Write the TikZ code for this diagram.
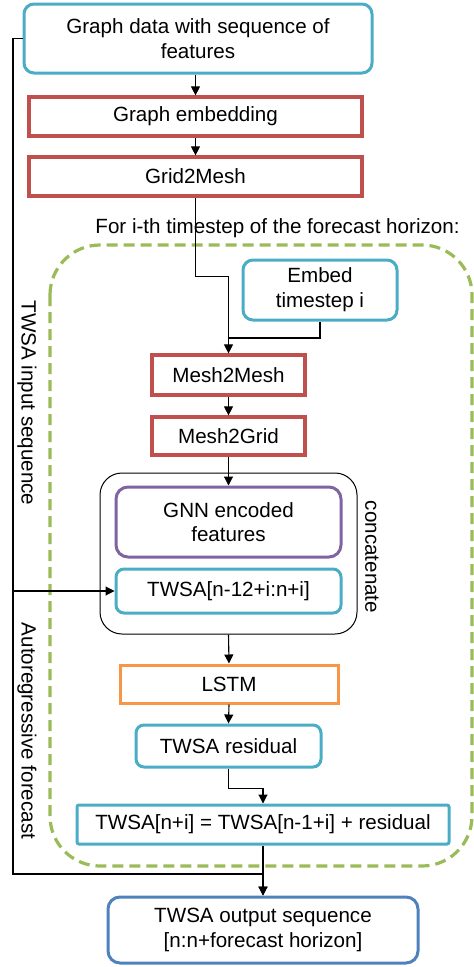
\documentclass[tikz,border=0pt]{standalone}
\usepackage{fontspec}
\setmainfont{Liberation Sans}
\usetikzlibrary{arrows.meta}
\definecolor{boxcyan}{HTML}{4BACC6}
\definecolor{boxred}{HTML}{C0504D}
\definecolor{boxpurple}{HTML}{8064A2}
\definecolor{boxorange}{HTML}{F79646}
\definecolor{boxblue}{HTML}{4F81BD}
\definecolor{loopgreen}{HTML}{9BBB59}
\tikzset{
	every node/.style={font=\fontsize{20.6}{24.7}\selectfont, align=center, inner sep=0pt},
	databox/.style={draw=boxcyan, line width=3pt, rounded corners=10pt},
	gnnbox/.style={draw=boxred, line width=3.2pt},
	arr/.style={line width=1.1pt, -{Triangle[length=9pt,width=9pt]}}
}
\begin{document}
\begin{tikzpicture}[x=1pt, y=-1pt]
			\useasboundingbox (0,0) rectangle (474,967);
			\draw [loopgreen, line width=3.2pt, dash pattern=on 11pt off 6pt, rounded corners=50pt] (50,245) rectangle (472,866);

			\node [databox, minimum width=348pt, minimum height=69pt] (graph) at (198,38.5) {Graph data with sequence of\\features};
			\node [gnnbox, minimum width=333pt, minimum height=39pt] (gemb) at (195.5,116.5) {Graph embedding};
			\node [gnnbox, minimum width=333pt, minimum height=39pt] (g2m) at (195.5,176.5) {Grid2Mesh};
			\node (lblfor) at (277.5,228) {For i-th timestep of the forecast horizon:};
			\node [databox, minimum width=154pt, minimum height=60pt] (embed) at (320,290) {Embed\\timestep i};
			\node [gnnbox, minimum width=153pt, minimum height=40pt] (m2m) at (228.5,375) {Mesh2Mesh};
			\node [gnnbox, minimum width=153pt, minimum height=38pt] (m2g) at (228.5,436) {Mesh2Grid};
			\node [draw, line width=1pt, rounded corners=22pt, minimum width=257pt, minimum height=161pt] (concat) at (228.5,553.5) {};
			\node [draw=boxpurple, line width=3pt, rounded corners=12pt, minimum width=225pt, minimum height=70pt] (gnn) at (228.5,522) {GNN encoded\\features};
			\node [databox, rounded corners=8pt, minimum width=225pt, minimum height=44pt] (win) at (228.5,591) {TWSA[n-12+i:n+i]};
			\node [rotate=-90] (lblcat) at (372,557) {concatenate};
			\node [draw=boxorange, line width=3pt, minimum width=218pt, minimum height=38pt] (lstm) at (229,684) {LSTM};
			\node [databox, rounded corners=8pt, minimum width=185pt, minimum height=42pt] (res) at (228.5,746) {TWSA residual};
			\node [databox, rounded corners=2pt, minimum width=372pt, minimum height=39pt] (upd) at (263,824.5) {TWSA[n+i] = TWSA[n-1+i] + residual};
			\node [draw=boxblue, line width=3pt, rounded corners=12pt, minimum width=310pt, minimum height=66pt] (out) at (263,930) {TWSA output sequence\\{}[n:n+forecast horizon]};
			\node [rotate=-90] (lblin) at (27,403) {TWSA input sequence};
			\node [rotate=-90] (lblar) at (27,731) {Autoregressive forecast};

			\coordinate (lbot) at (13,874);
			\coordinate (join) at (228.5,338);

			\draw [arr] (gemb.north |- graph.south) -- (gemb.north);
			\draw [arr] (gemb.south) -- (g2m.north);
			\draw [arr] (g2m.south) -- ++(0,79) -| (m2m.north);
			\draw [line width=1.1pt] (embed.south) |- (join);
			\draw [arr] (m2m.south) -- (m2g.north);
			\draw [arr] (m2g.south) -- (gnn.north);
			\draw [arr] (concat.south) -- (lstm.north);
			\draw [arr] (lstm.south) -- (res.north);
			\draw [arr] (res.south) -- ++(0,20) -| (upd.north);
			\draw [arr] (upd.south) -- (out.north);
			\draw [arr] (graph.west) -| (lbot) -| (out.north);
			\draw [arr] (lbot |- win.west) -- (win.west);
		\end{tikzpicture}
\end{document}
